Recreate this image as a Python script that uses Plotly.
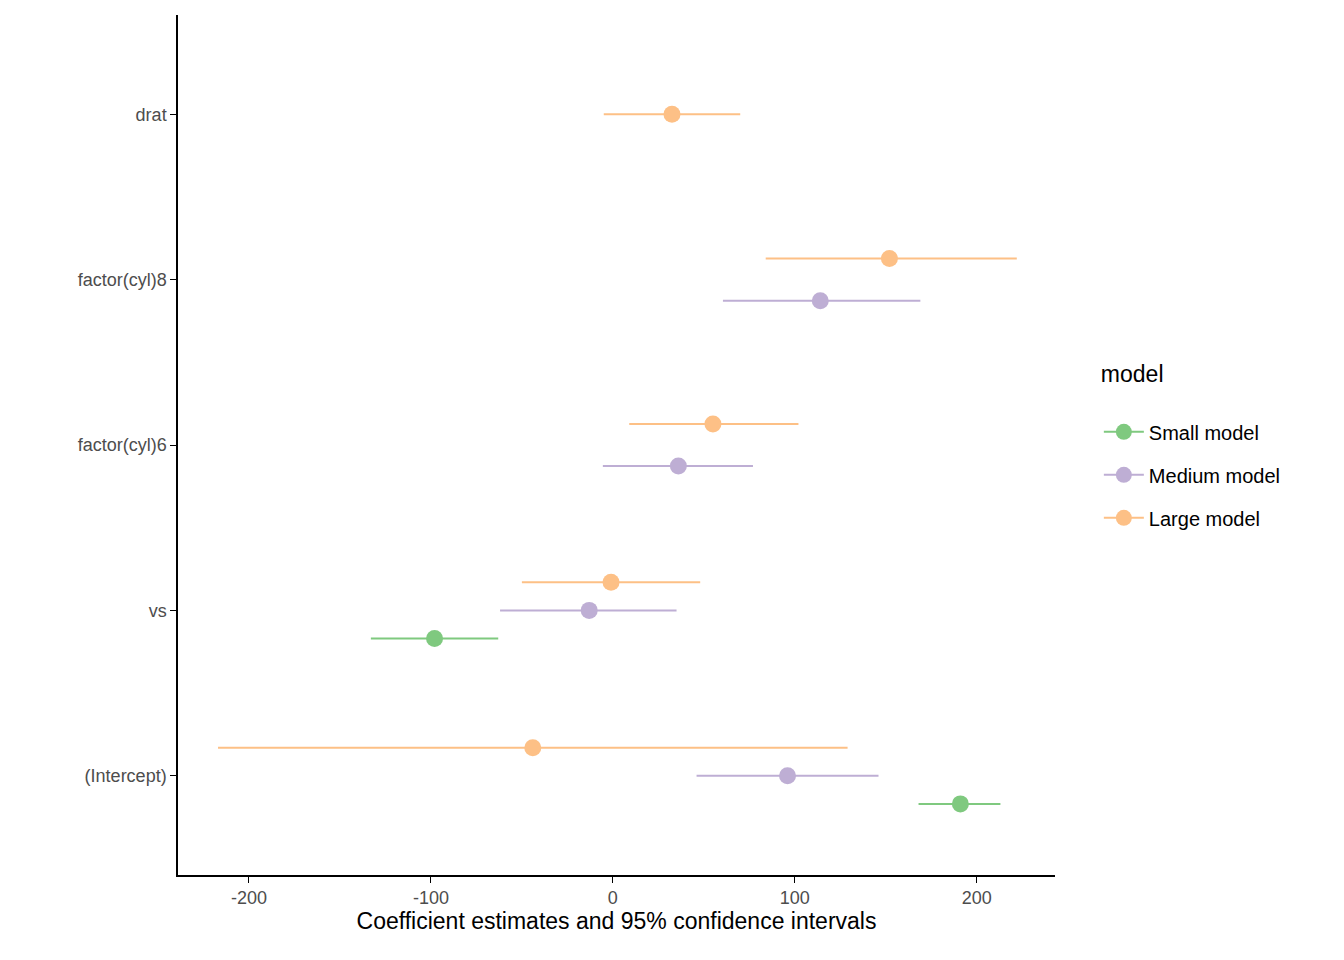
import plotly.graph_objects as go

terms = ["(Intercept)", "vs", "factor(cyl)6", "factor(cyl)8", "drat"]
models = ["Small model", "Medium model", "Large model"]
colors = ["#7FC97F", "#BEAED4", "#FDC086"]
x_ticks = [-200, -100, 0, 100, 200]
x_ticktext = ["-200", "-100", "0", "100", "200"]

# estimates / lower / upper per model, None where the term is absent
small_est = [191, -98, None, None, None]
small_lo = [168, -133, None, None, None]
small_hi = [213, -63, None, None, None]
medium_est = [96, -13, 36, 114, None]
medium_lo = [46, -62, -5.5, 60.5, None]
medium_hi = [146, 35, 77, 169, None]
large_est = [-44, -1, 55, 152, 32.5]
large_lo = [-217, -50, 9, 84, -5]
large_hi = [129, 48, 102, 222, 70]


def make_coef_plot(out_html):
    est = [small_est, medium_est, large_est]
    lo = [small_lo, medium_lo, large_lo]
    hi = [small_hi, medium_hi, large_hi]
    dodge = 0.51  # dodge width in category units

    fig = go.Figure()
    for m, name in enumerate(models):
        xs_line, ys_line, xs_pt, ys_pt = [], [], [], []
        for t in range(len(terms)):
            if est[m][t] is None:
                continue
            present = [k for k in range(len(models)) if est[k][t] is not None]
            n = len(present)
            i = present.index(m)
            # larger model sits higher, like ggplot dodge on reversed order
            y = t + 1 + dodge * ((i - (n - 1) / 2) / n)
            xs_line += [lo[m][t], hi[m][t], None]
            ys_line += [y, y, None]
            xs_pt.append(est[m][t])
            ys_pt.append(y)
        fig.add_trace(go.Scatter(x=xs_line, y=ys_line, mode="lines", legendgroup=name,
                                 line=dict(color=colors[m], width=2), showlegend=False,
                                 hoverinfo="skip"))
        fig.add_trace(go.Scatter(x=xs_pt, y=ys_pt, mode="markers", legendgroup=name,
                                 marker=dict(color=colors[m], size=17), showlegend=False))
        # legend key with line + point
        fig.add_trace(go.Scatter(x=[None], y=[None], mode="lines+markers", name=name,
                                 legendgroup=name, line=dict(color=colors[m], width=2),
                                 marker=dict(color=colors[m], size=17)))

    fig.update_layout(
        width=1344, height=960,
        plot_bgcolor="white", paper_bgcolor="white",
        font=dict(family="Liberation Sans, Arial, sans-serif", size=18, color="black"),
        margin=dict(l=170, r=297, t=7, b=93),
        legend=dict(title=dict(text="model<br>", font=dict(size=23)), x=1.05, y=0.5,
                    yanchor="middle", font=dict(size=20), tracegroupgap=14,
                    itemwidth=40),
    )
    fig.update_xaxes(range=[-239, 243], tickvals=x_ticks, ticktext=x_ticktext,
                     showline=True, linecolor="black", linewidth=1.5, ticks="outside",
                     ticklen=6, tickcolor="black", showgrid=False, zeroline=False,
                     tickfont=dict(color="#4D4D4D", size=18),
                     title=dict(text="Coefficient estimates and 95% confidence intervals",
                                font=dict(size=23), standoff=4))
    fig.update_yaxes(range=[0.4, 5.6], tickvals=[1, 2, 3, 4, 5], ticktext=terms,
                     showline=True, linecolor="black", linewidth=1.5, ticks="outside",
                     ticklen=6, tickcolor="black", showgrid=False, zeroline=False,
                     tickfont=dict(color="#4D4D4D", size=18))

    fig.write_html(out_html)


if __name__ == "__main__":
    make_coef_plot("out.html")
